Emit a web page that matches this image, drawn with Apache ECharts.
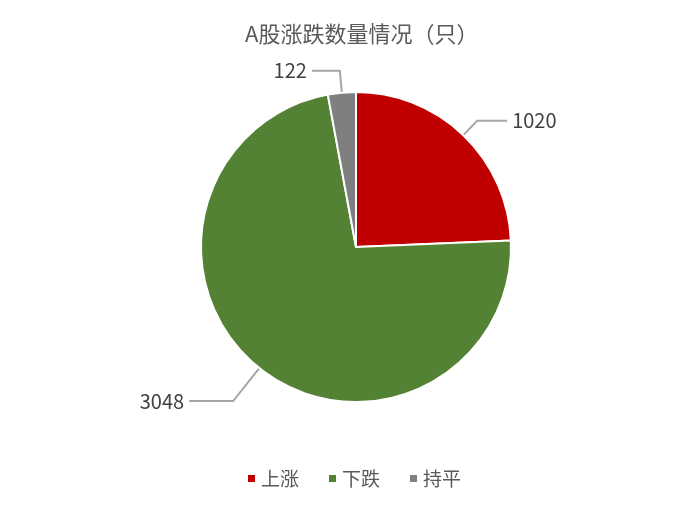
<!DOCTYPE html>
<html><head><meta charset="utf-8">
<script src="https://cdn.jsdelivr.net/npm/echarts@6/dist/echarts.min.js"></script>
<style>html,body{margin:0;padding:0;background:#fff}#c{width:693px;height:505px}</style>
</head><body><div id="c"></div>
<script>
const titleText = 'A股涨跌数量情况（只）';
const categories = ['上涨', '下跌', '持平'];
const values = [1020, 3048, 122];
const colors = ['#C00000', '#548235', '#7F7F7F'];
const lineLen = [[20, 30], [42, 44], [22, 28]];

const chart = echarts.init(document.getElementById('c'));
const font = '"Noto Sans CJK SC", "Microsoft YaHei", sans-serif';
chart.setOption({
  animation: false,
  title: {
    text: titleText, left: 240, top: 18,
    textStyle: { color: '#595959', fontSize: 22, fontWeight: 'normal', fontFamily: font }
  },
  legend: {
    bottom: 12, left: 241, itemWidth: 9, itemHeight: 9, itemGap: 28,
    icon: 'rect',
    textStyle: { color: '#595959', fontSize: 19, fontFamily: font },
    data: categories
  },
  series: [{
    type: 'pie',
    center: [356, 247],
    radius: ['0%', 155],
    startAngle: 90,
    clockwise: true,
    avoidLabelOverlap: false,
    itemStyle: { borderColor: '#fff', borderWidth: 2 },
    label: {
      show: true, formatter: '{c}', color: '#404040', fontSize: 20, fontFamily: font
    },
    labelLine: { lineStyle: { color: '#A6A6A6', width: 2 } },
    data: categories.map((n, i) => ({
      name: n, value: values[i],
      itemStyle: { color: colors[i] },
      labelLine: { length: lineLen[i][0], length2: lineLen[i][1] }
    }))
  }]
});
</script></body></html>
